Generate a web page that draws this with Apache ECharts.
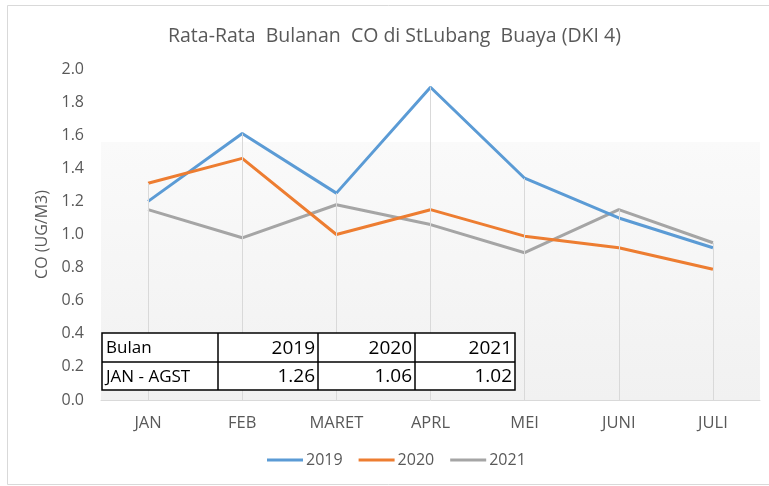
<!DOCTYPE html>
<html>
<head>
<meta charset="utf-8">
<title>Rata-Rata Bulanan CO</title>
<script src="https://cdn.jsdelivr.net/npm/echarts@6/dist/echarts.min.js"></script>
<style>
  html, body { margin: 0; padding: 0; background: #fff; }
  #chart { width: 769px; height: 486px; }
</style>
</head>
<body>
<div id="chart"></div>
<script>
var months = ['JAN', 'FEB', 'MARET', 'APRL', 'MEI', 'JUNI', 'JULI']
var years = ['2019', '2020', '2021']
var co2019 = [1.20, 1.61, 1.25, 1.89, 1.34, 1.10, 0.92]
var co2020 = [1.31, 1.46, 1.00, 1.15, 0.99, 0.92, 0.79]
var co2021 = [1.15, 0.98, 1.18, 1.06, 0.89, 1.15, 0.95]
var yTicks = [0, 0.2, 0.4, 0.6, 0.8, 1.0, 1.2, 1.4, 1.6, 1.8, 2.0]
// tabel rata-rata JAN - AGST
var tableHead = ['Bulan', '2019', '2020', '2021']
var tableRow = ['JAN - AGST', '1.26', '1.06', '1.02']

var colors = ['#5B9BD5', '#ED7D31', '#A5A5A5']
var font = '"Open Sans", Lato, sans-serif'

var chart = echarts.init(document.getElementById('chart'))

// garis jatuh (drop lines) dari nilai tertinggi ke sumbu
var dropLines = months.map(function (m, i) {
  var top = Math.max(co2019[i], co2020[i], co2021[i])
  return [{ coord: [m, top] }, { coord: [m, 0] }]
})

// tabel sebagai graphic
var colX = [102, 218, 318, 415, 515]
var rowY = [333, 362, 390]
var tableEls = []
tableEls.push({
  type: 'rect', shape: { x: colX[0], y: rowY[0], width: colX[4] - colX[0], height: rowY[2] - rowY[0] },
  style: { fill: '#fff', stroke: '#000', lineWidth: 1.5 }, z: 10
})
tableEls.push({
  type: 'line', shape: { x1: colX[0], y1: rowY[1], x2: colX[4], y2: rowY[1] },
  style: { stroke: '#000', lineWidth: 1.5 }, z: 11
})
for (var c = 1; c < 4; c++) {
  tableEls.push({
    type: 'line', shape: { x1: colX[c], y1: rowY[0], x2: colX[c], y2: rowY[2] },
    style: { stroke: '#000', lineWidth: 1.5 }, z: 11
  })
}
;[tableHead, tableRow].forEach(function (row, r) {
  row.forEach(function (txt, c) {
    var first = c === 0
    tableEls.push({
      type: 'text', z: 12,
      x: first ? colX[0] + 4 : colX[c + 1] - 3,
      y: (rowY[r] + rowY[r + 1]) / 2 + 1,
      style: {
        text: txt, fill: '#000', font: (first ? 17 : 19) + 'px ' + font,
        textAlign: first ? 'left' : 'right', textVerticalAlign: 'middle'
      }
    })
  })
})

function lineSeries(name, data, color, z) {
  return {
    name: name, type: 'line', data: data, symbol: 'none', z: z,
    itemStyle: { color: color },
    lineStyle: { width: 3, color: color }
  }
}

var option = {
  backgroundColor: '#fff',
  color: colors,
  animation: false,
  title: {
    text: 'Rata-Rata  Bulanan  CO di StLubang  Buaya (DKI 4)',
    left: 163, top: 21,
    textStyle: { color: '#595959', fontFamily: font, fontSize: 19.5, fontWeight: 'normal' }
  },
  legend: {
    data: years, bottom: 13, left: 262,
    icon: 'rect', itemWidth: 36, itemHeight: 3, itemGap: 16,
    textStyle: { color: '#595959', fontFamily: font, fontSize: 16, padding: [0, 0, 0, -2] }
  },
  grid: {
    left: 101, right: 9, top: 69, bottom: 86,
    show: true, borderWidth: 0,
    backgroundColor: new echarts.graphic.LinearGradient(0, 0, 0, 1, [
      { offset: 0, color: '#ffffff' },
      { offset: 0.22, color: '#ffffff' },
      { offset: 0.221, color: '#fafafa' },
      { offset: 1, color: '#f1f1f1' }
    ])
  },
  xAxis: {
    type: 'category', data: months, boundaryGap: true,
    axisLine: { show: true, lineStyle: { color: '#d9d9d9' } },
    axisTick: { show: false },
    axisLabel: { color: '#595959', fontFamily: font, fontSize: 16.5, margin: 15 },
    splitLine: { show: false }
  },
  yAxis: {
    type: 'value', min: yTicks[0], max: yTicks[yTicks.length - 1], interval: 0.2,
    name: 'CO (UG/M3)', nameLocation: 'middle', nameGap: 50,
    nameTextStyle: { color: '#595959', fontFamily: font, fontSize: 16 },
    axisLine: { show: false }, axisTick: { show: false },
    splitLine: { show: false },
    axisLabel: {
      color: '#595959', fontFamily: font, fontSize: 16, margin: 17,
      formatter: function (v) { return v.toFixed(1) }
    }
  },
  series: [
    lineSeries(years[0], co2019, colors[0], 3),
    lineSeries(years[1], co2020, colors[1], 3),
    lineSeries(years[2], co2021, colors[2], 2),
    {
      name: 'drop', type: 'line', data: [], z: 1, silent: true,
      itemStyle: { color: '#d9d9d9' },
      markLine: {
        silent: true, symbol: ['none', 'none'], label: { show: false },
        lineStyle: { color: '#d9d9d9', width: 1, type: 'solid' },
        data: dropLines
      }
    }
  ],
  graphic: [
    {
      type: 'rect', shape: { x: 7.5, y: 5.5, width: 780, height: 479 },
      style: { fill: 'none', stroke: '#d9d9d9', lineWidth: 1 }, silent: true, z: 0
    }
  ].concat(tableEls)
}

chart.setOption(option)
</script>
</body>
</html>
